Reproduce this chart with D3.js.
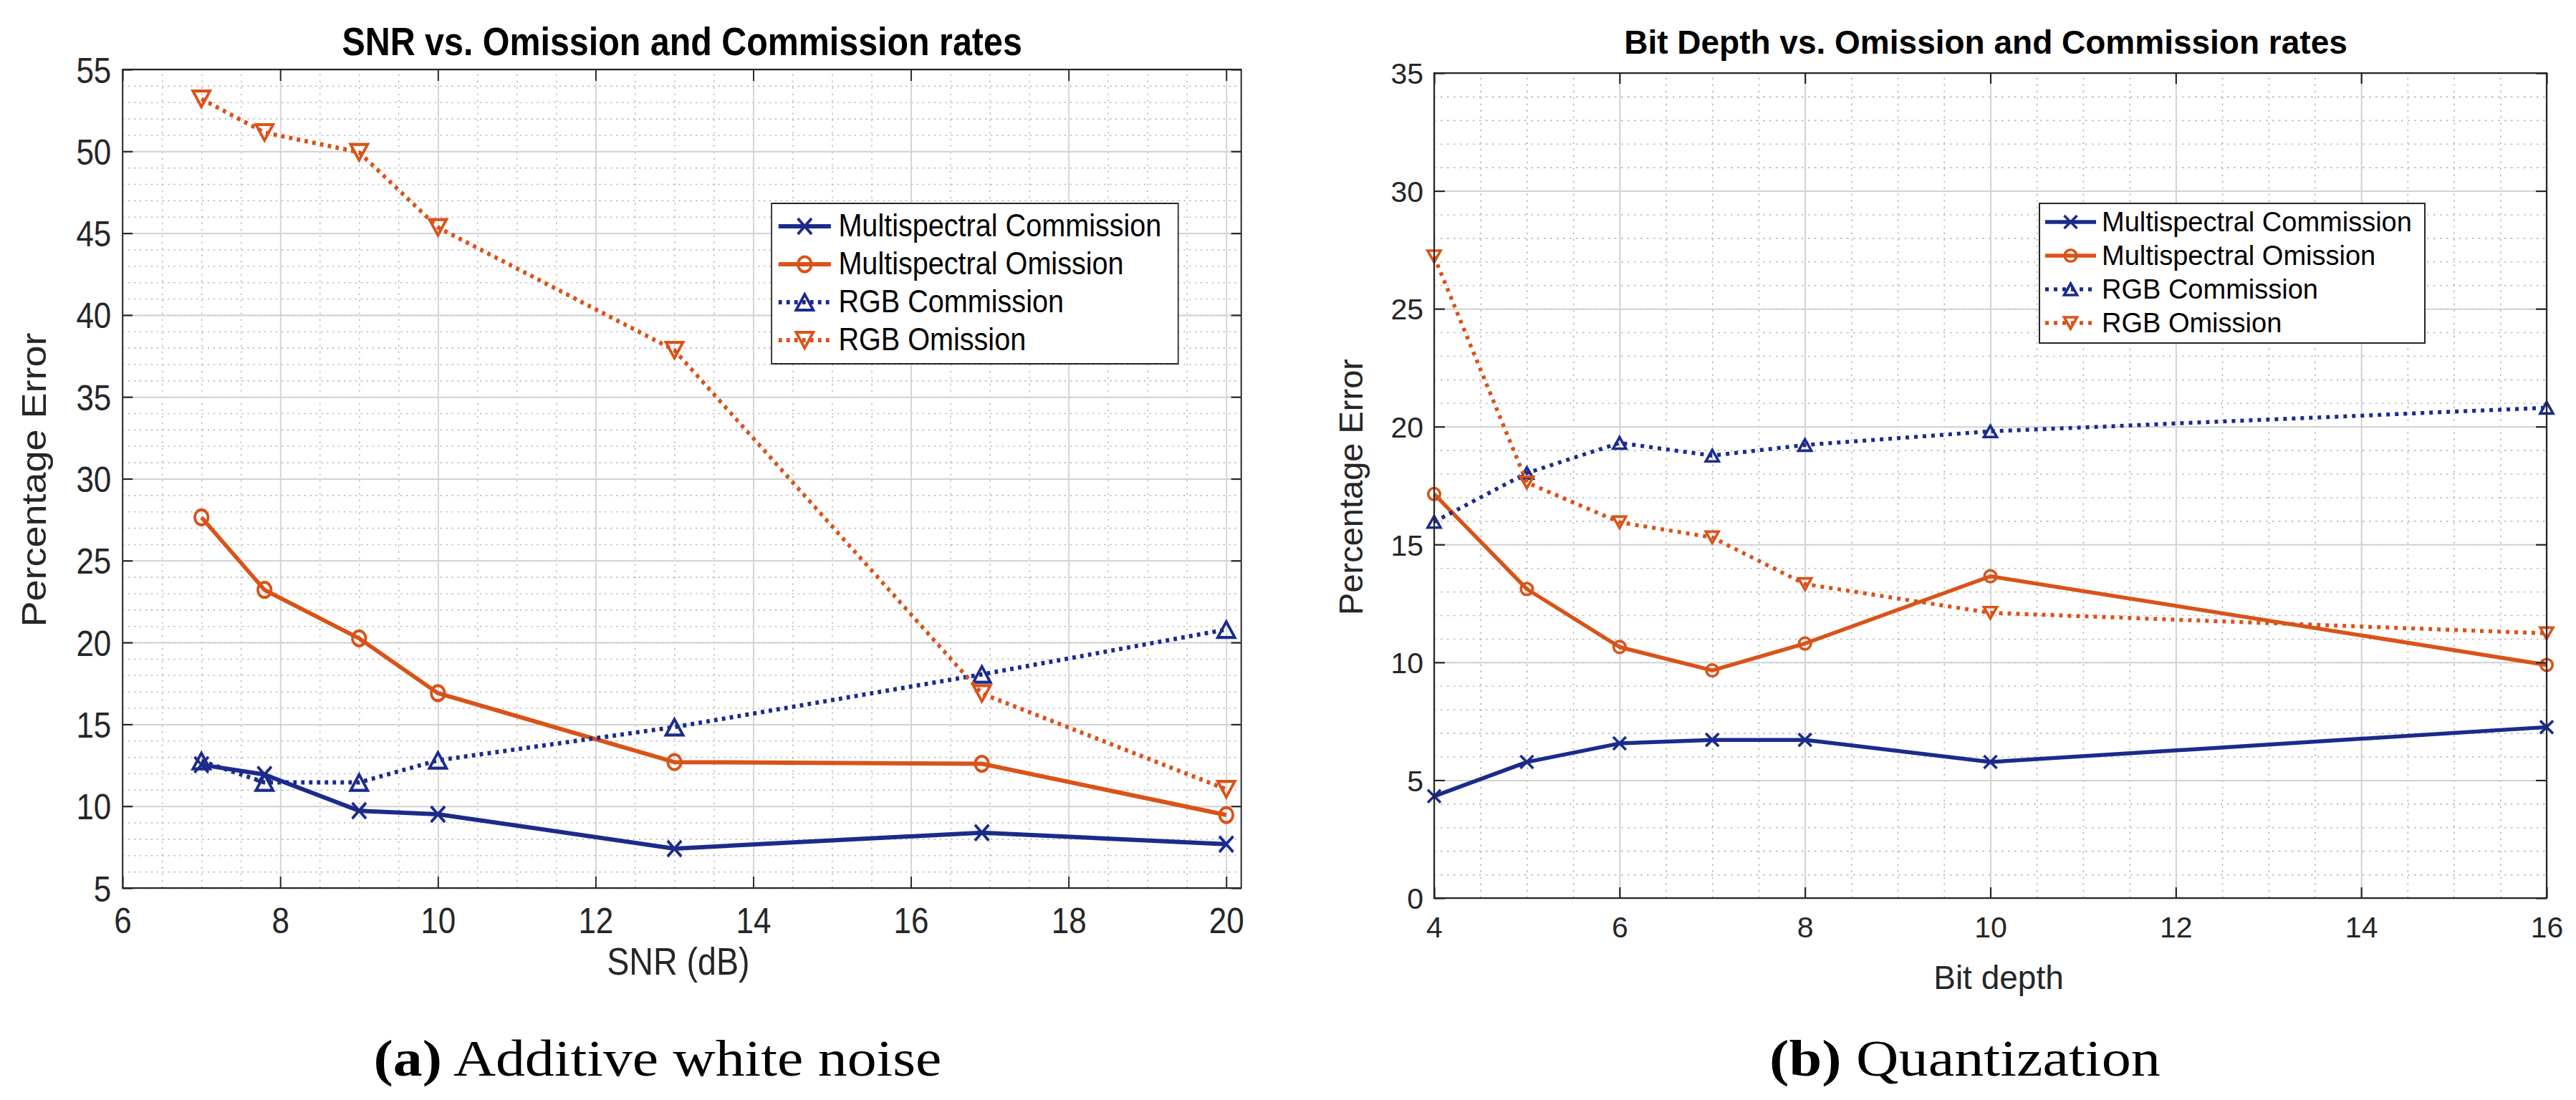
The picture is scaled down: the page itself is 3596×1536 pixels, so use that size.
<!DOCTYPE html>
<html><head><meta charset="utf-8">
<script src="https://cdn.jsdelivr.net/npm/d3@7"></script>
<style>body{margin:0;background:#fff} svg{display:block}</style>
</head><body>
<svg id="fig" width="3596" height="1536"></svg>
<script>
// ---------- data ----------
const seriesNames = ["Multispectral Commission", "Multispectral Omission", "RGB Commission", "RGB Omission"];
const seriesColors = ["#1b2b8c", "#d95319", "#1b2b8c", "#d95319"];
const seriesDotted = [false, false, true, true];
const seriesMarkers = ["x", "o", "^", "v"];

const snrX = [7, 7.8, 9, 10, 13, 16.9, 20];
const snrMsCommission  = [12.53, 11.93, 9.72, 9.51, 7.41, 8.38, 7.68];
const snrMsOmission    = [27.64, 23.21, 20.25, 16.90, 12.69, 12.59, 9.46];
const snrRgbCommission = [12.76, 11.45, 11.45, 12.80, 14.83, 18.05, 20.79];
const snrRgbOmission   = [53.20, 51.15, 49.94, 45.35, 37.85, 16.88, 11.03];
const snrXTicks = [6, 8, 10, 12, 14, 16, 18, 20];
const snrYTicks = [5, 10, 15, 20, 25, 30, 35, 40, 45, 50, 55];

const bitX = [4, 5, 6, 7, 8, 10, 16];
const bitMsCommission  = [4.32, 5.77, 6.56, 6.71, 6.71, 5.77, 7.25];
const bitMsOmission    = [17.14, 13.11, 10.65, 9.66, 10.80, 13.65, 9.89];
const bitRgbCommission = [15.96, 18.03, 19.31, 18.77, 19.22, 19.80, 20.80];
const bitRgbOmission   = [27.22, 17.63, 15.94, 15.30, 13.32, 12.10, 11.23];
const bitXTicks = [4, 6, 8, 10, 12, 14, 16];
const bitYTicks = [0, 5, 10, 15, 20, 25, 30, 35];

// ---------- drawing ----------
const svg = d3.select("#fig");
const SANS = "'Liberation Sans', Arial, Helvetica, sans-serif";
const SERIF = "'Liberation Serif', 'Times New Roman', serif";
const AX = "#262626";

function drawMarker(parent, type, cx, cy, m, color, sw) {
  if (type === "o") {
    parent.append("circle").attr("cx", cx).attr("cy", cy).attr("r", m.r)
      .attr("fill", "none").attr("stroke", color).attr("stroke-width", sw);
    return;
  }
  let d;
  if (type === "^") d = `M0,${-m.h/2}L${m.w/2},${m.h/2}L${-m.w/2},${m.h/2}Z`;
  else if (type === "v") d = `M0,${m.h/2}L${m.w/2},${-m.h/2}L${-m.w/2},${-m.h/2}Z`;
  else d = `M${-m.c},${-m.c}L${m.c},${m.c}M${-m.c},${m.c}L${m.c},${-m.c}`;
  parent.append("path").attr("d", d).attr("transform", `translate(${cx},${cy})`)
    .attr("fill", "none").attr("stroke", color).attr("stroke-width", sw)
    .attr("stroke-linejoin", "miter");
}

function drawPanel(o) {
  const g = svg.append("g").attr("transform", `scale(${o.sx},1)`);
  const x = d3.scaleLinear().domain(o.xDomain).range([o.left, o.right]);
  const y = d3.scaleLinear().domain(o.yDomain).range([o.bottom, o.top]);
  const W = o.right - o.left, H = o.bottom - o.top;

  const xMinor = d3.range(o.xDomain[0], o.xDomain[1] + 1e-9, o.xMinor);
  const yMinor = d3.range(o.yDomain[0], o.yDomain[1] + 1e-9, o.yMinor);

  // minor grid
  const gm = g.append("g");
  gm.append("g").attr("transform", `translate(0,${o.bottom})`)
    .call(d3.axisBottom(x).tickValues(xMinor).tickSize(-H).tickFormat(""));
  gm.append("g").attr("transform", `translate(${o.left},0)`)
    .call(d3.axisLeft(y).tickValues(yMinor).tickSize(-W).tickFormat(""));
  gm.selectAll(".domain").remove();
  gm.selectAll("line").attr("stroke", "#b8b8b8").attr("stroke-width", 1.6)
    .attr("stroke-dasharray", "2.5,6.5");

  // major grid
  const gM = g.append("g");
  gM.append("g").attr("transform", `translate(0,${o.bottom})`)
    .call(d3.axisBottom(x).tickValues(o.xTicks).tickSize(-H).tickFormat(""));
  gM.append("g").attr("transform", `translate(${o.left},0)`)
    .call(d3.axisLeft(y).tickValues(o.yTicks).tickSize(-W).tickFormat(""));
  gM.selectAll(".domain").remove();
  gM.selectAll("line").attr("stroke", "#d2d2d2").attr("stroke-width", 2);

  // series
  o.series.forEach((vals, i) => {
    const pts = o.xs.map((xv, j) => [x(xv), y(vals[j])]);
    g.append("path").attr("d", d3.line()(pts)).attr("fill", "none")
      .attr("stroke", seriesColors[i]).attr("stroke-width", o.lw)
      .attr("stroke-linejoin", "round")
      .attr("stroke-dasharray", seriesDotted[i] ? o.dash : null);
    pts.forEach(p => drawMarker(g, seriesMarkers[i], p[0], p[1], o.m, seriesColors[i], o.msw));
  });

  // box
  g.append("rect").attr("x", o.left).attr("y", o.top).attr("width", W).attr("height", H)
    .attr("fill", "none").attr("stroke", AX).attr("stroke-width", 2.2);

  // axes
  const TL = o.tickLen;
  const axB = g.append("g").attr("transform", `translate(0,${o.bottom})`)
    .call(d3.axisBottom(x).tickValues(o.xTicks).tickSize(-TL).tickSizeOuter(0).tickFormat(d3.format("d")));
  axB.selectAll("text").attr("y", o.xTickBase).attr("dy", 0);
  const axL = g.append("g").attr("transform", `translate(${o.left},0)`)
    .call(d3.axisLeft(y).tickValues(o.yTicks).tickSize(-TL).tickSizeOuter(0).tickFormat(d3.format("d")));
  axL.selectAll("text").attr("x", -o.yTickPad).attr("dy", "0.36em");
  const axT = g.append("g").attr("transform", `translate(0,${o.top})`)
    .call(d3.axisTop(x).tickValues(o.xTicks).tickSize(-TL).tickSizeOuter(0).tickFormat(""));
  const axR = g.append("g").attr("transform", `translate(${o.right},0)`)
    .call(d3.axisRight(y).tickValues(o.yTicks).tickSize(-TL).tickSizeOuter(0).tickFormat(""));
  [axB, axL, axT, axR].forEach(a => {
    a.select(".domain").remove();
    a.selectAll("line").attr("stroke", AX).attr("stroke-width", 2.2);
    a.selectAll("text").attr("fill", AX).style("font-family", SANS).style("font-size", o.tickFont + "px");
  });

  // title & labels
  g.append("text").attr("x", o.titleX).attr("y", o.titleY).attr("text-anchor", "middle")
    .style("font-family", SANS).style("font-weight", "bold").style("font-size", o.titleFont + "px")
    .attr("fill", "#000").text(o.title);
  g.append("text").attr("x", o.xLabelX).attr("y", o.xLabelY).attr("text-anchor", "middle")
    .style("font-family", SANS).style("font-size", o.labelFont + "px").attr("fill", AX).text(o.xLabel);
  g.append("text").attr("transform", `translate(${o.yLabelX},${o.yLabelY}) rotate(-90)`)
    .attr("text-anchor", "middle")
    .style("font-family", SANS).style("font-size", o.yLabelFont + "px").attr("fill", AX).text(o.yLabel);

  // legend
  const L = o.legend;
  const lg = g.append("g");
  lg.append("rect").attr("x", L.x0).attr("y", L.y0).attr("width", L.x1 - L.x0).attr("height", L.y1 - L.y0)
    .attr("fill", "#fff").attr("stroke", AX).attr("stroke-width", 2);
  seriesNames.forEach((name, i) => {
    const base = L.base0 + i * L.step;
    const ly = base - L.lineOff;
    lg.append("line").attr("x1", L.lx0).attr("x2", L.lx1).attr("y1", ly).attr("y2", ly)
      .attr("stroke", seriesColors[i]).attr("stroke-width", o.lw)
      .attr("stroke-dasharray", seriesDotted[i] ? o.dash : null);
    drawMarker(lg, seriesMarkers[i], (L.lx0 + L.lx1) / 2, ly, o.m, seriesColors[i], o.msw);
    lg.append("text").attr("x", L.tx).attr("y", base)
      .style("font-family", SANS).style("font-size", L.font + "px").attr("fill", "#000").text(name);
  });
}

const SQ = 0.88; // left subfigure is horizontally compressed
drawPanel({
  sx: SQ, left: 194.5, right: 1969, top: 97, bottom: 1240,
  xDomain: [6, 20.19], yDomain: [5, 55], xTicks: snrXTicks, yTicks: snrYTicks,
  xMinor: 0.5, yMinor: 1,
  xs: snrX, series: [snrMsCommission, snrMsOmission, snrRgbCommission, snrRgbOmission],
  lw: 6, msw: 4.2, dash: "5.5,7", m: { r: 10.5, w: 27, h: 22, c: 11 },
  tickLen: 16, xTickBase: 63, yTickPad: 18, tickFont: 50,
  title: "SNR vs. Omission and Commission rates", titleX: 1082, titleY: 77, titleFont: 55,
  xLabel: "SNR (dB)", xLabelX: 1076, xLabelY: 1361, labelFont: 53,
  yLabel: "Percentage Error", yLabelX: 73, yLabelY: 670, yLabelFont: 54,
  legend: { x0: 1224, x1: 1869, y0: 284, y1: 508, lx0: 1235, lx1: 1318, tx: 1330,
            base0: 330, step: 53, lineOff: 14, font: 45 }
});

drawPanel({
  sx: 1, left: 2002, right: 3555, top: 102, bottom: 1254,
  xDomain: [4, 16], yDomain: [0, 35], xTicks: bitXTicks, yTicks: bitYTicks,
  xMinor: 0.5, yMinor: 1,
  xs: bitX, series: [bitMsCommission, bitMsOmission, bitRgbCommission, bitRgbOmission],
  lw: 5.5, msw: 3.6, dash: "5,7", m: { r: 8.3, w: 18, h: 16, c: 9 },
  tickLen: 15, xTickBase: 55, yTickPad: 15, tickFont: 41,
  title: "Bit Depth vs. Omission and Commission rates", titleX: 2772, titleY: 75, titleFont: 46,
  xLabel: "Bit depth", xLabelX: 2790, xLabelY: 1381, labelFont: 46,
  yLabel: "Percentage Error", yLabelX: 1902, yLabelY: 680, yLabelFont: 47,
  legend: { x0: 2847, x1: 3385, y0: 284, y1: 479, lx0: 2855, lx1: 2926, tx: 2934,
            base0: 323, step: 47, lineOff: 13, font: 38 }
});

// captions
function caption(cx, base, width, bold, rest) {
  const t = svg.append("text").attr("x", cx).attr("y", base).attr("text-anchor", "middle")
    .style("font-family", SERIF).style("font-size", "71px").attr("fill", "#000");
  t.append("tspan").style("font-weight", "bold").text(bold);
  t.append("tspan").text(rest);
  const w = t.node().getComputedTextLength();
  t.attr("transform", `translate(${cx},0) scale(${width / w},1) translate(${-cx},0)`);
}
caption(918, 1502, 793, "(a)", " Additive white noise");
caption(2743, 1502, 546, "(b)", " Quantization");
</script>
</body></html>
